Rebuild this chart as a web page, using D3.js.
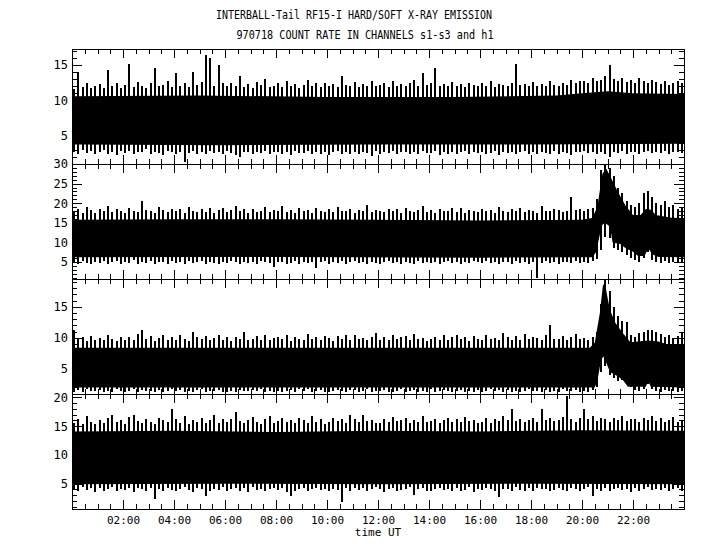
<!DOCTYPE html>
<html>
<head>
<meta charset="utf-8">
<script src="https://cdn.jsdelivr.net/npm/d3@7"></script>
<style>
  body { margin: 0; background: #fff; }
  svg { display: block; }
  text { font-family: "DejaVu Sans Mono", monospace; fill: #000; }
</style>
</head>
<body>
<svg id="chart" width="720" height="550"></svg>
<script>
// ---- data ----
// spike envelopes, one value per 10 min bin (144 bins, 00:00 - 24:00)
var hi1 = [
  11.6,14.0,11.9,12.4,11.7,12.1, 12.3,11.8,14.3,12.0,12.4,11.7, 12.2,15.2,11.9,12.6,12.1,11.8, 12.4,14.6,12.0,12.2,12.7,11.9,
  13.9,12.1,12.4,11.9,14.0,12.2, 12.6,16.4,16.0,12.1,15.0,12.4, 12.0,12.5,12.1,13.5,11.9,12.3, 11.8,12.6,12.2,13.0,11.9,12.1,
  12.4,11.9,12.7,12.0,12.3,11.8, 12.2,12.9,12.0,12.4,11.9,12.5, 12.1,12.3,11.9,13.5,12.2,12.0, 12.6,11.9,12.3,12.1,12.8,12.0,
  12.2,12.5,11.9,12.7,12.1,12.3, 12.0,12.4,12.9,12.1,13.9,12.2, 12.5,14.6,12.1,12.3,12.0,12.6, 12.1,12.3,11.9,12.5,12.2,12.0,
  12.4,12.1,12.7,11.9,12.3,12.2, 12.0,12.5,15.2,12.2,12.3,12.1, 12.6,12.0,12.3,12.1,12.8,12.2, 12.1,12.4,12.2,12.9,12.5,12.7,
  12.8,12.5,13.1,12.7,12.9,13.5, 15.0,13.0,12.7,13.2,12.6,12.9, 12.5,13.1,12.8,12.4,12.9,12.6, 12.3,12.7,12.2,12.5,12.8,12.4
];
var lo1 = [
  2.8,2.5,3.0,2.6,2.9,2.4, 2.7,3.0,2.5,2.8,2.3,2.9, 2.6,2.9,2.4,2.8,2.7,3.1, 2.5,2.8,2.6,2.3,2.9,2.7,
  2.4,2.8,1.3,2.6,2.9,2.5, 2.7,2.4,2.9,2.6,2.8,2.5, 2.9,2.6,2.3,2.0,2.7,2.8, 2.5,2.8,2.6,2.9,2.4,2.7,
  2.8,2.5,2.7,2.3,2.9,2.6, 2.6,2.9,2.4,2.8,2.5,2.7, 2.3,2.7,2.9,2.5,2.8,2.4, 2.7,2.5,2.8,2.6,2.2,2.9,
  2.5,2.8,2.6,2.9,2.4,2.7, 2.8,2.4,2.7,2.5,2.9,2.6, 2.6,2.9,2.3,2.7,2.5,2.8, 2.4,2.7,2.9,2.5,2.8,2.6,
  2.8,2.5,2.6,2.9,2.3,2.7, 2.6,2.8,2.4,2.7,2.9,2.5, 2.7,2.4,2.8,2.6,2.5,2.9, 2.5,2.8,2.6,2.3,2.7,2.8,
  2.9,2.6,2.8,2.5,2.7,2.4, 2.1,2.8,2.6,2.9,2.5,2.7, 2.8,2.5,2.7,2.9,2.6,2.8, 2.6,2.9,2.5,2.7,2.8,2.6
];
var hi2 = [
  17.8,18.6,17.5,19.0,18.2,17.6, 18.4,17.9,19.2,17.7,18.5,18.0, 17.6,18.8,18.1,17.8,20.5,18.3, 18.0,17.5,19.0,18.2,17.8,18.6,
  17.9,18.4,17.6,19.1,18.0,17.7, 18.5,17.8,18.9,17.6,18.3,18.8, 17.7,18.2,19.3,17.9,18.4,17.6, 18.6,17.8,18.1,19.0,17.7,18.3,
  18.0,19.4,17.8,18.2,17.6,18.7, 17.9,18.3,17.6,18.9,18.1,17.8, 18.4,17.7,19.1,18.0,17.9,18.5, 17.6,18.2,18.0,19.5,17.8,18.3,
  18.1,17.7,18.6,17.9,18.4,17.6, 18.8,18.0,17.7,18.3,19.2,17.8, 18.2,17.6,18.5,17.9,18.0,18.7, 17.8,18.9,17.6,18.2,18.0,17.7,
  18.5,17.9,18.3,17.6,19.0,18.1, 17.7,18.4,18.0,18.8,17.8,18.2, 18.0,17.6,19.3,18.1,17.9,18.6, 18.3,17.8,18.0,21.6,18.2,18.5,
  18.0,18.4,18.9,21.0,28.5,29.8, 29.0,27.0,24.0,22.5,20.5,19.5, 19.0,20.0,22.5,23.0,21.5,20.0, 19.5,20.5,19.0,19.5,18.5,19.0
];
var lo2 = [
  5.0,4.6,5.3,4.8,4.4,5.1, 4.7,5.2,4.5,4.9,5.3,4.6, 5.1,4.8,5.4,4.5,5.0,4.7, 5.2,4.4,4.9,5.1,4.6,5.3,
  4.8,5.0,4.5,5.2,4.7,4.9, 5.3,4.6,5.1,4.8,4.4,5.0, 4.7,5.2,4.9,4.5,5.1,4.8, 5.0,4.6,5.3,4.9,4.7,3.6,
  4.9,5.1,4.5,4.8,5.2,4.6, 5.1,4.7,5.0,3.4,4.9,5.3, 4.6,5.0,4.8,5.2,4.5,4.9, 5.2,4.7,5.1,4.6,5.0,4.8,
  4.5,4.9,5.3,4.7,5.1,4.6, 5.0,4.8,4.5,5.2,4.7,4.9, 4.8,5.1,4.6,5.0,5.3,4.7, 5.1,4.5,4.9,4.7,5.2,5.0,
  4.7,5.2,4.8,5.1,4.6,4.9, 5.0,4.6,5.3,4.8,5.0,4.5, 4.9,1.0,4.7,5.2,4.8,5.0, 4.6,5.1,4.9,4.7,5.2,4.8,
  5.0,4.8,5.3,5.8,8.0,11.5, 11.0,8.5,8.0,7.5,6.8,6.0, 5.4,5.0,6.0,7.5,5.6,4.9, 4.8,5.2,4.7,5.0,4.9,5.1
];
var hi3 = [
  11.2,9.8,10.1,9.5,10.3,9.7, 10.0,9.6,10.4,9.9,9.5,10.2, 9.7,10.1,9.6,10.6,11.3,9.8, 10.3,9.5,10.0,10.5,9.7,10.1,
  9.6,10.4,9.9,9.5,11.0,10.2, 9.8,10.3,9.6,10.0,10.4,9.7, 10.1,9.5,10.2,9.8,11.0,9.6, 9.9,10.3,9.7,10.5,9.6,10.0,
  10.2,9.8,10.4,9.5,10.1,9.9, 9.6,10.6,9.8,10.2,9.7,10.3, 10.0,9.5,10.3,9.9,10.5,9.7, 10.4,9.8,10.0,9.6,10.2,10.8,
  9.7,10.1,9.6,10.4,9.9,10.2, 10.3,9.6,10.7,9.8,10.0,9.5, 9.9,10.2,9.7,10.5,9.6,10.1, 10.4,9.8,10.1,9.5,10.3,9.9,
  9.6,10.5,9.9,10.0,9.7,10.8, 10.1,9.7,10.3,9.6,10.6,9.9, 10.2,10.0,9.6,10.4,12.0,9.8, 9.9,10.3,9.7,10.1,10.6,9.8,
  10.0,9.6,10.2,11.0,15.5,19.3, 17.5,15.0,13.5,12.8,12.5,10.5, 10.2,10.8,11.0,11.2,11.3,11.0, 10.6,10.2,10.5,10.0,10.3,10.9
];
var lo3 = [
  1.3,1.6,1.2,1.7,1.4,1.5, 1.6,1.2,1.5,1.3,1.7,1.4, 1.2,1.5,1.7,1.3,1.6,1.4, 1.5,1.3,1.6,1.2,1.4,1.7,
  1.4,1.6,1.3,1.5,1.2,1.6, 1.7,1.3,1.5,1.4,1.6,1.2, 1.3,1.5,1.2,1.6,1.4,1.5, 1.6,1.4,1.7,1.3,1.5,1.2,
  1.4,1.2,1.5,1.6,1.3,1.7, 1.5,1.7,1.3,1.4,1.6,1.2, 1.2,1.4,1.6,1.5,1.3,1.6, 1.6,1.3,1.4,1.7,1.2,1.5,
  1.4,1.6,1.2,1.3,1.5,1.7, 1.3,1.5,1.6,1.2,1.4,1.3, 1.7,1.2,1.4,1.6,1.5,1.3, 1.5,1.6,1.3,1.4,1.2,1.6,
  1.2,1.4,1.7,1.5,1.6,1.3, 1.6,1.3,1.5,1.2,1.4,1.7, 1.4,1.5,1.2,1.6,1.3,1.5, 1.3,1.7,1.4,1.5,1.6,1.2,
  1.5,1.3,1.6,2.0,4.5,5.5, 4.0,3.5,3.0,3.2,2.8,2.0, 1.6,1.4,1.8,2.5,1.7,1.5, 1.3,1.6,1.4,1.5,1.2,1.4
];
var hi4 = [
  15.6,16.2,15.3,16.8,15.8,15.4, 16.0,15.5,16.4,17.0,15.7,16.1, 15.4,16.6,17.0,15.9,15.6,16.3, 15.8,15.3,16.5,16.0,15.7,18.0,
  16.2,15.6,16.7,15.4,16.0,15.8, 16.4,15.5,16.1,16.9,15.6,16.2, 15.7,16.3,17.5,15.9,15.5,16.0, 16.6,15.8,15.4,16.2,16.8,15.6,
  15.9,16.4,15.7,16.0,15.5,16.5, 16.1,15.6,16.7,15.8,16.3,15.4, 15.8,16.5,15.9,16.2,15.6,16.9, 16.3,15.7,17.0,15.9,16.1,15.6,
  15.5,16.2,15.8,16.6,15.9,16.0, 16.4,15.6,16.1,15.8,16.8,15.7, 15.9,16.3,15.6,16.0,16.5,15.8, 16.2,15.7,16.6,15.9,16.1,15.5,
  15.8,16.4,15.6,16.2,15.9,16.7, 16.0,18.0,15.9,16.3,15.7,16.1, 16.5,15.8,18.0,16.0,16.4,15.9, 16.1,16.6,20.3,16.2,15.8,16.4,
  18.0,16.3,16.8,15.9,16.5,16.2, 15.8,16.4,16.0,16.7,15.9,16.3, 16.2,15.7,16.5,16.0,16.8,15.9, 16.4,15.8,16.1,16.6,15.7,16.0
];
var lo4 = [
  4.1,3.7,4.4,3.9,4.2,3.6, 4.3,3.8,4.1,4.4,3.7,4.0, 3.9,4.2,3.6,4.3,4.0,3.8, 4.2,2.3,4.0,3.7,4.3,3.9,
  3.8,4.1,4.4,3.9,3.6,4.2, 4.0,2.9,3.7,4.1,3.9,4.4, 3.7,4.0,4.2,3.8,4.3,3.6, 4.4,3.9,4.1,3.7,4.0,4.2,
  3.9,4.3,3.6,2.8,3.8,4.0, 4.2,3.7,4.0,4.3,3.9,4.1, 3.8,4.1,3.9,1.8,4.2,3.7, 4.3,3.9,4.2,3.8,4.0,4.4,
  4.0,3.6,4.1,4.3,3.7,3.9, 4.1,4.4,3.0,4.0,4.2,3.7, 3.7,4.0,4.3,3.9,4.1,3.8, 4.2,3.8,3.9,4.4,3.6,4.1,
  3.9,4.3,4.0,3.7,2.7,4.0, 4.1,3.7,4.4,3.9,3.8,4.3, 3.8,4.2,4.0,4.1,3.7,3.9, 4.3,3.9,3.7,4.2,4.0,3.8,
  4.0,4.4,2.9,4.1,3.8,4.2, 3.7,4.1,4.3,3.9,4.0,3.6, 4.2,3.8,4.0,4.4,3.9,4.1, 3.9,4.3,3.7,4.0,4.2,3.8
];

// dense core of each trace, [hour, count rate] breakpoints
var coreHi1 = [[0,10.6],[5,10.7],[10,10.5],[15,10.5],[19,10.7],[20,11.0],[21,11.3],[22,11.0],[24,10.9]];
var coreLo1 = [[0,3.8],[6,3.7],[12,3.8],[18,3.8],[24,3.9]];
var coreHi2 = [[0,15.8],[4,15.9],[8,15.9],[12,15.8],[16,15.6],[20,15.8],[20.4,16.2],[20.6,19],[20.8,27.5],[20.95,28.8],
               [21.1,27],[21.4,23],[21.7,19.5],[22.0,17.0],[22.3,17.0],[22.5,18.5],[22.7,18.3],[22.9,17.0],[23.5,16.3],[24,16.2]];
var coreLo2 = [[0,6.2],[8,6.3],[16,6.1],[20.4,6.2],[20.55,7.5],[20.7,12],[20.8,14.5],[20.9,15],[21.0,14.5],[21.1,14],
               [21.2,10],[21.5,9.6],[21.7,8.6],[22.0,7.6],[22.2,6.5],[22.45,6.5],[22.6,8.5],[22.75,7],[23,6.3],[24,6.2]];
var coreHi3 = [[0,8.4],[6,8.4],[12,8.4],[18,8.4],[20.3,8.4],[20.5,9.2],[20.7,14],[20.82,18.5],[20.9,18.8],[21.0,16.5],
               [21.1,14.5],[21.3,12.5],[21.6,10.8],[21.9,9.3],[22.2,9.4],[22.6,9.6],[23.0,9.4],[23.3,9.0],[24,9.0]];
var coreLo3 = [[0,2.0],[20.5,2.0],[20.6,3],[20.75,6.5],[20.85,7],[20.95,6],[21.1,4.5],[21.4,3.8],[21.6,3.2],[21.8,2.1],
               [22.5,2.1],[22.6,3],[22.7,2.1],[24,2.0]];
var coreHi4 = [[0,14.1],[4,14.2],[8,14.0],[12,14.2],[16,14.1],[20,14.3],[24,14.2]];
var coreLo4 = [[0,4.9],[6,5.0],[12,4.9],[18,5.0],[24,4.9]];

// axis extents and labelled ticks
var yDomains = [[1.05, 17.25], [0.66, 30], [0.95, 19.5], [0.6, 20.6]];
var yTickValues = [[5, 10, 15], [5, 10, 15, 20, 25, 30], [5, 10, 15], [5, 10, 15, 20]];
var hourLabels = [2, 4, 6, 8, 10, 12, 14, 16, 18, 20, 22];

var titleLine1 = "INTERBALL-Tail RF15-I HARD/SOFT X-RAY EMISSION";
var titleLine2 = "970718  COUNT RATE IN CHANNELS s1-s3 and h1";
var xTitle = "time UT";

var panels = [
  {hi: hi1, lo: lo1, coreHi: coreHi1, coreLo: coreLo1},
  {hi: hi2, lo: lo2, coreHi: coreHi2, coreLo: coreLo2},
  {hi: hi3, lo: lo3, coreHi: coreHi3, coreLo: coreLo3},
  {hi: hi4, lo: lo4, coreHi: coreHi4, coreLo: coreLo4}
];

drawChart();

function drawChart(){
    var left = 72, right = 684, top = 49, panelH = 115;
    var svg = d3.select('#chart');

    svg.append('text')
        .attr('x', 354).attr('y', 19)
        .attr('text-anchor', 'middle')
        .style('font-size', '12px')
        .attr('textLength', 276).attr('lengthAdjust', 'spacingAndGlyphs')
        .text(titleLine1);
    svg.append('text')
        .attr('x', 365).attr('y', 39)
        .attr('text-anchor', 'middle')
        .style('font-size', '12px')
        .attr('textLength', 257).attr('lengthAdjust', 'spacingAndGlyphs')
        .text(titleLine2);

    var x = d3.scaleLinear().domain([0, 24]).range([left, right]);
    var halfHours = d3.range(0, 24.01, 0.5).filter(function(d){ return d % 2 !== 0; });
    var twoHours = d3.range(0, 24.01, 2);

    panels.forEach(function(p, k){
        var g = svg.append('g').attr('transform', 'translate(0,' + (top + k * panelH) + ')');
        var y = d3.scaleLinear().domain(yDomains[k]).range([panelH, 0]);

        g.append('clipPath').attr('id', 'clip' + k)
          .append('rect').attr('x', left).attr('y', 0)
            .attr('width', right - left).attr('height', panelH);
        var plot = g.append('g').attr('clip-path', 'url(#clip' + k + ')');

        // solid core
        var poly = p.coreHi.concat(p.coreLo.slice().reverse());
        var line = d3.line()
            .x(function(d){ return x(d[0]); })
            .y(function(d){ return y(d[1]); });
        plot.append('path')
            .attr('d', line(poly) + 'Z')
            .attr('fill', '#000');

        // spikes per 10 minute bin
        plot.selectAll('.spike')
          .data(p.hi)
          .enter().append('line')
            .attr('class', 'spike')
            .attr('x1', function(d, i){ return Math.round(x((i + 0.5) / 6)); })
            .attr('x2', function(d, i){ return Math.round(x((i + 0.5) / 6)); })
            .attr('y1', function(d){ return y(d); })
            .attr('y2', function(d, i){ return y(p.lo[i]); })
            .attr('stroke', '#000')
            .attr('stroke-width', 2)
            .attr('shape-rendering', 'crispEdges');

        // y axes, labelled and minor ticks
        var minor = d3.range(Math.ceil(yDomains[k][0]), Math.floor(yDomains[k][1]) + 1)
            .filter(function(d){ return d % 5 !== 0; });
        var axes = [
          {gen: d3.axisLeft(y).tickValues(yTickValues[k]).tickSize(-10).tickPadding(4), pos: 'translate(' + left + ',0)'},
          {gen: d3.axisLeft(y).tickValues(minor).tickSize(-5).tickFormat(''), pos: 'translate(' + left + ',0)'},
          {gen: d3.axisRight(y).tickValues(yTickValues[k]).tickSize(-10).tickFormat(''), pos: 'translate(' + right + ',0)'},
          {gen: d3.axisRight(y).tickValues(minor).tickSize(-5).tickFormat(''), pos: 'translate(' + right + ',0)'},
          {gen: d3.axisTop(x).tickValues(twoHours).tickSize(-9).tickFormat(''), pos: 'translate(0,0)'},
          {gen: d3.axisTop(x).tickValues(halfHours).tickSize(-5).tickFormat(''), pos: 'translate(0,0)'},
          {gen: d3.axisBottom(x).tickValues(twoHours).tickSize(-9).tickFormat(''), pos: 'translate(0,' + panelH + ')'},
          {gen: d3.axisBottom(x).tickValues(halfHours).tickSize(-5).tickFormat(''), pos: 'translate(0,' + panelH + ')'}
        ];
        axes.forEach(function(a){
            var ag = g.append('g')
                .attr('transform', a.pos)
                .call(a.gen.tickSizeOuter(0));
            ag.selectAll('path, line')
                .attr('stroke', '#000')
                .attr('shape-rendering', 'crispEdges');
            ag.selectAll('text')
                .style('font-family', '"DejaVu Sans Mono", monospace')
                .style('font-size', '12px');
        });

        if(k === panels.length - 1){
            var xl = g.append('g')
                .attr('transform', 'translate(0,' + panelH + ')')
                .call(d3.axisBottom(x)
                    .tickValues(hourLabels)
                    .tickSize(0).tickPadding(7)
                    .tickFormat(function(d){ return (d < 10 ? '0' : '') + d + ':00'; }));
            xl.select('.domain').remove();
            xl.selectAll('text')
                .style('font-family', '"DejaVu Sans Mono", monospace')
                .style('font-size', '11px');
            g.append('text')
                .attr('x', (left + right) / 2).attr('y', panelH + 27)
                .attr('text-anchor', 'middle')
                .style('font-size', '11px')
                .text(xTitle);
        }
    });
}
</script>
</body>
</html>
